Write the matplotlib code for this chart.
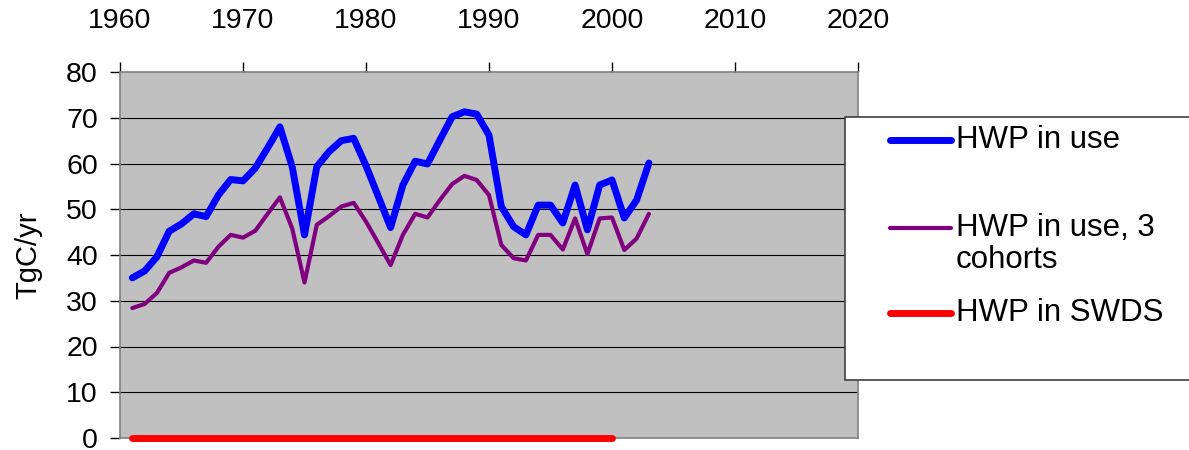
import matplotlib
matplotlib.use("Agg")
import matplotlib.pyplot as plt
from matplotlib.lines import Line2D
from matplotlib.patches import Rectangle

plt.rcParams['font.family'] = ['Liberation Sans', 'DejaVu Sans']

years = list(range(1961, 2004))

hwp_in_use = [35.0, 36.5, 39.6, 45.2, 46.8, 49.0, 48.4, 53.1, 56.5, 56.2,
              59.0, 63.4, 68.0, 59.3, 44.4, 59.3, 62.6, 65.0, 65.5, 59.5,
              52.8, 46.0, 55.3, 60.5, 59.9, 65.1, 70.2, 71.3, 70.8, 66.2,
              50.6, 46.2, 44.4, 50.9, 50.9, 47.0, 55.3, 45.5, 55.3, 56.4,
              48.1, 52.0, 60.1]

hwp_in_use_3cohorts = [28.4, 29.3, 31.7, 36.1, 37.3, 38.8, 38.3, 41.8, 44.4, 43.8,
                       45.3, 49.0, 52.6, 45.8, 34.0, 46.6, 48.5, 50.6, 51.4, 47.3,
                       42.6, 37.8, 44.4, 49.0, 48.2, 52.0, 55.5, 57.3, 56.4, 53.1,
                       42.2, 39.3, 38.8, 44.4, 44.4, 41.2, 48.0, 40.2, 48.0, 48.2,
                       41.1, 43.6, 49.0]

swds_years = list(range(1961, 2001))
hwp_in_swds = [0.0] * len(swds_years)

x_ticks = [1960, 1970, 1980, 1990, 2000, 2010, 2020]
y_ticks = [0, 10, 20, 30, 40, 50, 60, 70, 80]

series_labels = ["HWP in use", "HWP in use, 3\ncohorts", "HWP in SWDS"]
series_colors = ["#0000FF", "#800080", "#FF0000"]
series_widths = [5.0, 3.0, 5.0]

W, H = 1189, 450
fig = plt.figure(figsize=(W / 100, H / 100), dpi=100)
fig.patch.set_facecolor("white")


def px(x, y):
    """Pixel position (from top-left) to figure fraction."""
    return x / W, (H - y) / H


# plot area: x 120..858, y 72..438 (pixels from top)
ax = fig.add_axes([120 / W, (H - 438) / H, 738 / W, 366 / H])
ax.set_facecolor("#C0C0C0")

ax.plot(years, hwp_in_use, color=series_colors[0], lw=series_widths[0],
        solid_capstyle="round", solid_joinstyle="round", zorder=3)
ax.plot(years, hwp_in_use_3cohorts, color=series_colors[1], lw=series_widths[1],
        solid_capstyle="round", solid_joinstyle="round", zorder=3)
ax.plot(swds_years, hwp_in_swds, color=series_colors[2], lw=series_widths[2],
        solid_capstyle="round", zorder=4, clip_on=False)

ax.set_xlim(1960, 2020)
ax.set_ylim(0, 80)
ax.set_xticks(x_ticks)
ax.set_yticks(y_ticks)

ax.xaxis.tick_top()
ax.tick_params(axis="x", which="both", direction="out", length=7, width=1,
               color="black", labelsize=20.5, pad=20, top=True, bottom=False)
ax.tick_params(axis="y", which="both", direction="out", length=7, width=1,
               color="black", labelsize=20.5, pad=9)

for v in y_ticks[1:-1]:
    ax.axhline(v, color="black", lw=0.8, zorder=1)

for side in ["left", "top", "right", "bottom"]:
    ax.spines[side].set_color("#808080")
    ax.spines[side].set_linewidth(1.2)

ax.set_ylabel("TgC/yr", fontsize=21, labelpad=17)

# legend panel on the right, running off the figure edge
bx0, by0 = px(845, 380)
bx1, by1 = px(1200, 117)
fig.patches.append(Rectangle((bx0, by0), bx1 - bx0, by1 - by0,
                             transform=fig.transFigure, facecolor="white",
                             edgecolor="#404040", lw=1.2, clip_on=False, zorder=5))

legend_rows = [140, 228, 313]
for label, color, lw, yrow in zip(series_labels, series_colors, series_widths, legend_rows):
    x0, y0 = px(890, yrow)
    x1, _ = px(951, yrow)
    fig.add_artist(Line2D([x0, x1], [y0, y0], transform=fig.transFigure,
                          color=color, lw=lw, solid_capstyle="round", zorder=6))
    tx, ty = px(956, yrow)
    if "\n" in label:
        fig.text(tx, ty + 15 / H, label, fontsize=22.5, ha="left", va="top",
                 linespacing=1.1, zorder=6)
    else:
        fig.text(tx, ty, label, fontsize=22.5, ha="left", va="center", zorder=6)

fig.savefig("out.png", dpi=100)
